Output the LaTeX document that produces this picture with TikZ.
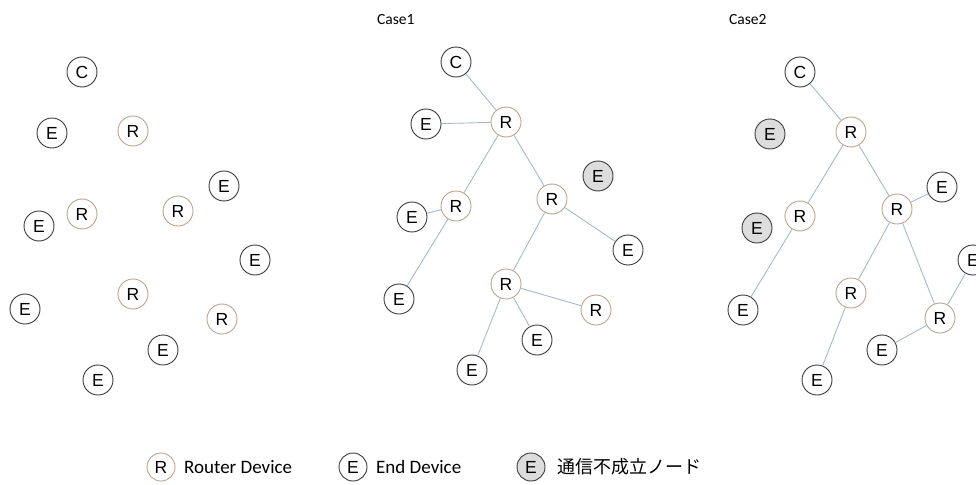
\documentclass[tikz,border=0pt]{standalone}
\usepackage{fontspec}
\setmainfont{Carlito}
\newfontfamily\nodefont{Liberation Sans}
\newfontfamily\jpfont{Noto Sans CJK JP}
\definecolor{rcol}{HTML}{B9A58E}
\definecolor{ecol}{HTML}{3A3A3A}
\definecolor{lcol}{HTML}{A7B9C8}
\definecolor{gfill}{HTML}{DDDDDD}
\tikzset{
  dev/.style={circle, minimum size=30pt, inner sep=0pt, line width=0.9pt, font=\nodefont\fontsize{17.5}{17.5}\selectfont, text=black, fill=white},
  rdev/.style={dev, draw=rcol},
  edev/.style={dev, draw=ecol},
  fdev/.style={dev, draw=ecol, fill=gfill},
  ldev/.style={minimum size=28pt},
  link/.style={draw=lcol, line width=0.9pt},
  title/.style={font=\fontsize{15.5}{15.5}\selectfont, anchor=west, inner sep=0pt},
  legtext/.style={font=\fontsize{19}{19}\selectfont, anchor=west, inner sep=0pt}
}
\begin{document}
\begin{tikzpicture}[x=1pt,y=-1pt]
\useasboundingbox (0,0) rectangle (976,484);
\clip (0,0) rectangle (976,484);
% ---------- left: unconnected ----------
\node[edev] (a0) at (82,72) {C};
\node[edev] (a1) at (52,133) {E};
\node[rdev] (a2) at (133,131) {R};
\node[edev] (a3) at (224,186) {E};
\node[rdev] (a4) at (82,214) {R};
\node[rdev] (a5) at (178,211) {R};
\node[edev] (a6) at (39,226) {E};
\node[edev] (a7) at (255,260) {E};
\node[rdev] (a8) at (133,294) {R};
\node[edev] (a9) at (25,309) {E};
\node[rdev] (a10) at (222,319) {R};
\node[edev] (a11) at (163,350) {E};
\node[edev] (a12) at (98,380) {E};
% ---------- Case1 ----------
\node[title] (t1) at (377,20) {Case1};
\node[edev] (b0) at (456,62) {C};
\node[edev] (b1) at (426,124) {E};
\node[rdev] (b2) at (506,122) {R};
\node[fdev] (b3) at (598,176) {E};
\node[rdev] (b4) at (456,206) {R};
\node[rdev] (b5) at (552,199) {R};
\node[edev] (b6) at (412,217) {E};
\node[edev] (b7) at (628,250) {E};
\node[edev] (b8) at (399,299) {E};
\node[rdev] (b9) at (506,284) {R};
\node[rdev] (b10) at (596,310) {R};
\node[edev] (b11) at (537,340) {E};
\node[edev] (b12) at (472,370) {E};
\draw[link] (b0) -- (b2);
\draw[link] (b1) -- (b2);
\draw[link] (b2) -- (b4);
\draw[link] (b2) -- (b5);
\draw[link] (b4) -- (b6);
\draw[link] (b4) -- (b8);
\draw[link] (b5) -- (b7);
\draw[link] (b5) -- (b9);
\draw[link] (b9) -- (b10);
\draw[link] (b9) -- (b11);
\draw[link] (b9) -- (b12);
% ---------- Case2 ----------
\node[title] (t2) at (729,20) {Case2};
\node[edev] (c0) at (800,72) {C};
\node[fdev] (c1) at (770,134) {E};
\node[rdev] (c2) at (851,132) {R};
\node[edev] (c3) at (942,187) {E};
\node[rdev] (c4) at (897,209) {R};
\node[rdev] (c5) at (800,216) {R};
\node[fdev] (c6) at (757,228) {E};
\node[edev] (c7) at (973,260) {E};
\node[rdev] (c8) at (851,293) {R};
\node[edev] (c9) at (743,310) {E};
\node[rdev] (c10) at (940,318) {R};
\node[edev] (c11) at (882,350) {E};
\node[edev] (c12) at (817,380) {E};
\draw[link] (c0) -- (c2);
\draw[link] (c2) -- (c5);
\draw[link] (c2) -- (c4);
\draw[link] (c4) -- (c3);
\draw[link] (c5) -- (c9);
\draw[link] (c4) -- (c8);
\draw[link] (c4) -- (c10);
\draw[link] (c8) -- (c12);
\draw[link] (c10) -- (c7);
\draw[link] (c10) -- (c11);
% ---------- legend ----------
\node[rdev, ldev] (l1) at (161,467) {R};
\node[legtext] (l1t) at (184,467) {Router Device};
\node[edev, ldev] (l2) at (353,467) {E};
\node[legtext] (l2t) at (376,467) {End Device};
\node[fdev, ldev] (l3) at (531,467) {E};
\node[legtext, font=\jpfont\fontsize{18}{18}\selectfont] (l3t) at (557,467) {通信不成立ノード};
\end{tikzpicture}
\end{document}
